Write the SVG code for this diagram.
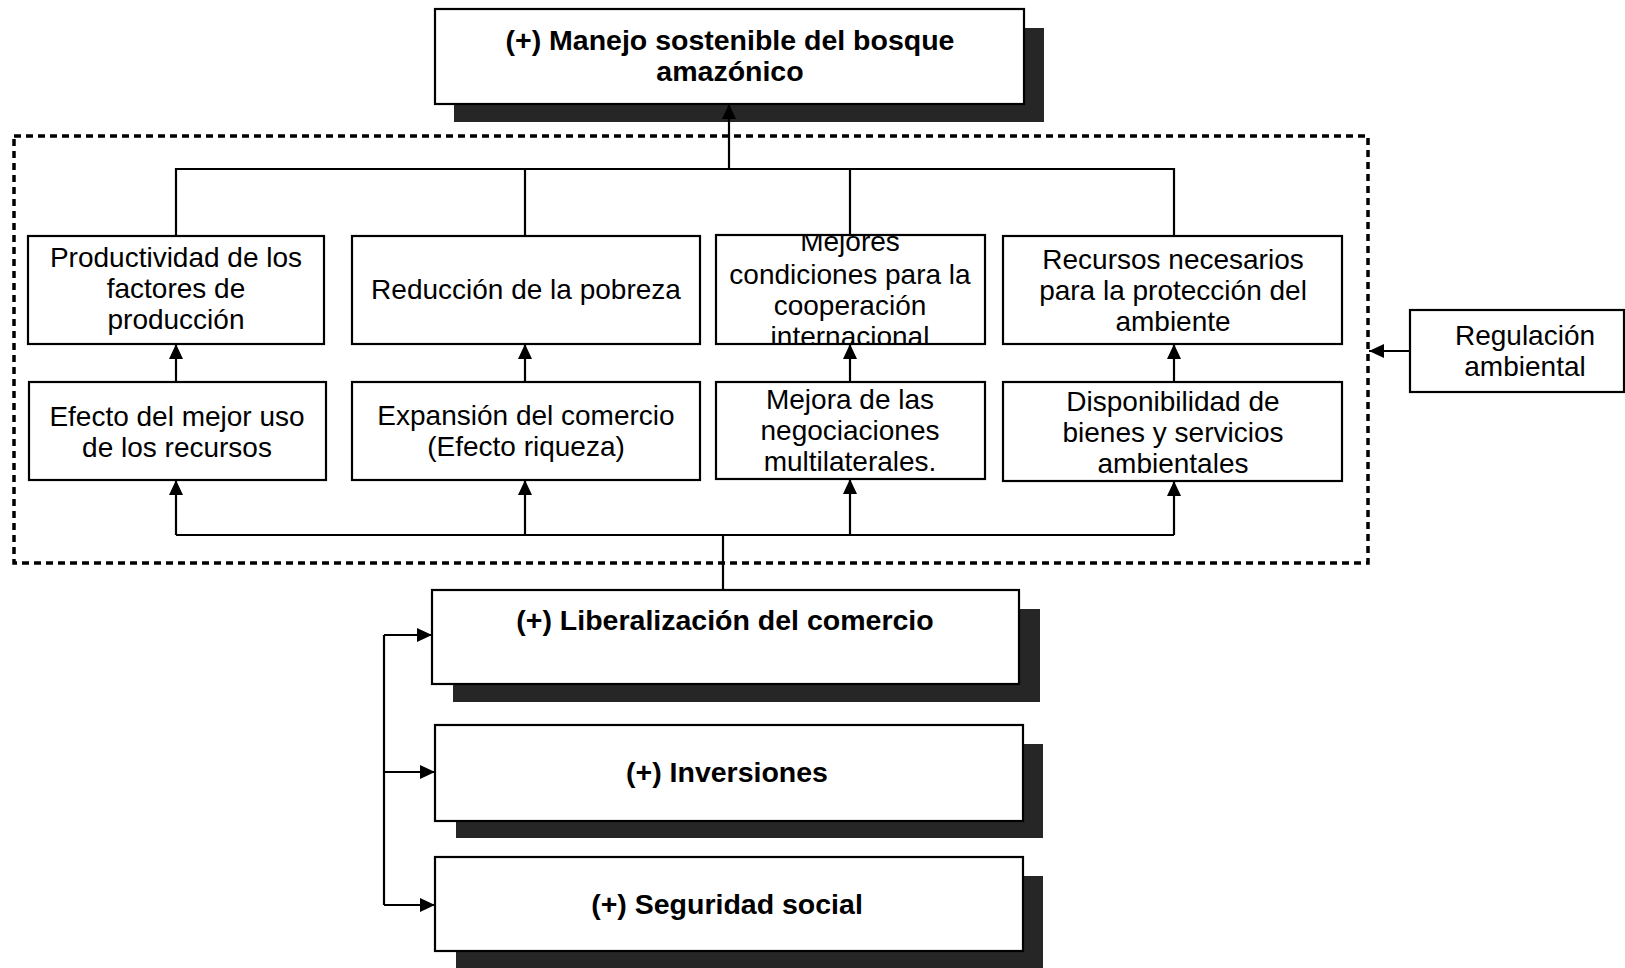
<svg xmlns="http://www.w3.org/2000/svg" width="1625" height="968" viewBox="0 0 1625 968">
<style>
.box{fill:#fff;stroke:#000;stroke-width:2.2}
.shadow{fill:#262626}
.t{font-family:"Liberation Sans",Arial,sans-serif;font-size:28px;fill:#000;text-anchor:middle}
.b{font-weight:bold;font-size:28.5px}
.ln{fill:none;stroke:#000;stroke-width:2.2}
.dot{fill:none;stroke:#000;stroke-width:3.5;stroke-dasharray:7 5}
</style>
<defs>
<marker id="ah" markerUnits="userSpaceOnUse" markerWidth="16" markerHeight="14" refX="15" refY="7" orient="auto">
<path d="M0,0 L15,7 L0,14 z" fill="#000"/>
</marker>
<clipPath id="c3"><rect x="716" y="235" width="269" height="109"/></clipPath>
</defs>
<rect x="0" y="0" width="1625" height="968" fill="#fff"/>

<g id="container">
<rect class="dot" x="14" y="136" width="1354" height="427"/>
</g>

<g id="top-goal">
<rect class="shadow" x="454" y="28" width="590" height="94"/>
<rect class="box" x="435" y="9" width="589" height="95"/>
<text class="t b" x="730" y="50">(+) Manejo sostenible del bosque</text>
<text class="t b" x="730" y="81">amazónico</text>
</g>

<g id="n-productividad">
<rect class="box" x="28" y="236" width="296" height="108"/>
<text class="t" x="176" y="267">Productividad de los</text>
<text class="t" x="176" y="298">factores de</text>
<text class="t" x="176" y="329">producción</text>
</g>
<g id="n-reduccion">
<rect class="box" x="352" y="236" width="348" height="108"/>
<text class="t" x="526" y="299">Reducción de la pobreza</text>
</g>
<g id="n-mejores">
<rect class="box" x="716" y="235" width="269" height="109"/>
<g clip-path="url(#c3)">
<text class="t" x="850" y="251">Mejores</text>
<text class="t" x="850" y="284">condiciones para la</text>
<text class="t" x="850" y="315">cooperación</text>
<text class="t" x="850" y="346">internacional</text>
</g>
</g>
<g id="n-recursos">
<rect class="box" x="1003" y="236" width="339" height="108"/>
<text class="t" x="1173" y="269">Recursos necesarios</text>
<text class="t" x="1173" y="300">para la protección del</text>
<text class="t" x="1173" y="331">ambiente</text>
</g>

<g id="n-efecto">
<rect class="box" x="29" y="382" width="297" height="98"/>
<text class="t" x="177" y="426">Efecto del mejor uso</text>
<text class="t" x="177" y="457">de los recursos</text>
</g>
<g id="n-expansion">
<rect class="box" x="352" y="382" width="348" height="98"/>
<text class="t" x="526" y="425">Expansión del comercio</text>
<text class="t" x="526" y="456">(Efecto riqueza)</text>
</g>
<g id="n-mejora">
<rect class="box" x="716" y="382" width="269" height="97"/>
<text class="t" x="850" y="409">Mejora de las</text>
<text class="t" x="850" y="440">negociaciones</text>
<text class="t" x="850" y="471">multilaterales.</text>
</g>
<g id="n-disponibilidad">
<rect class="box" x="1003" y="382" width="339" height="99"/>
<text class="t" x="1173" y="411">Disponibilidad de</text>
<text class="t" x="1173" y="442">bienes y servicios</text>
<text class="t" x="1173" y="473">ambientales</text>
</g>

<g id="n-regulacion">
<rect class="box" x="1410" y="310" width="214" height="82"/>
<text class="t" x="1525" y="345">Regulación</text>
<text class="t" x="1525" y="376">ambiental</text>
</g>

<g id="n-liberalizacion">
<rect class="shadow" x="453" y="609" width="587" height="93"/>
<rect class="box" x="432" y="590" width="587" height="94"/>
<text class="t b" x="725" y="630">(+) Liberalización del comercio</text>
</g>
<g id="n-inversiones">
<rect class="shadow" x="456" y="744" width="587" height="94"/>
<rect class="box" x="435" y="725" width="588" height="96"/>
<text class="t b" x="727" y="782">(+) Inversiones</text>
</g>
<g id="n-seguridad">
<rect class="shadow" x="456" y="876" width="587" height="92"/>
<rect class="box" x="435" y="857" width="588" height="94"/>
<text class="t b" x="727" y="914">(+) Seguridad social</text>
</g>

<g id="connectors">
<path class="ln" d="M729,169 V104" marker-end="url(#ah)"/>
<path class="ln" d="M176,236 V169 H1174 V236 M525,169 V236 M850,169 V236"/>
<path class="ln" d="M176,382 V344" marker-end="url(#ah)"/>
<path class="ln" d="M525,382 V344" marker-end="url(#ah)"/>
<path class="ln" d="M850,382 V344" marker-end="url(#ah)"/>
<path class="ln" d="M1174,382 V344" marker-end="url(#ah)"/>
<path class="ln" d="M176,535 H1174 M723,535 V590"/>
<path class="ln" d="M176,535 V480" marker-end="url(#ah)"/>
<path class="ln" d="M525,535 V480" marker-end="url(#ah)"/>
<path class="ln" d="M850,535 V479" marker-end="url(#ah)"/>
<path class="ln" d="M1174,535 V481" marker-end="url(#ah)"/>
<path class="ln" d="M1410,351 H1369" marker-end="url(#ah)"/>
<path class="ln" d="M384,635 V905"/>
<path class="ln" d="M384,635 H432" marker-end="url(#ah)"/>
<path class="ln" d="M384,772 H435" marker-end="url(#ah)"/>
<path class="ln" d="M384,905 H435" marker-end="url(#ah)"/>
</g>
</svg>
